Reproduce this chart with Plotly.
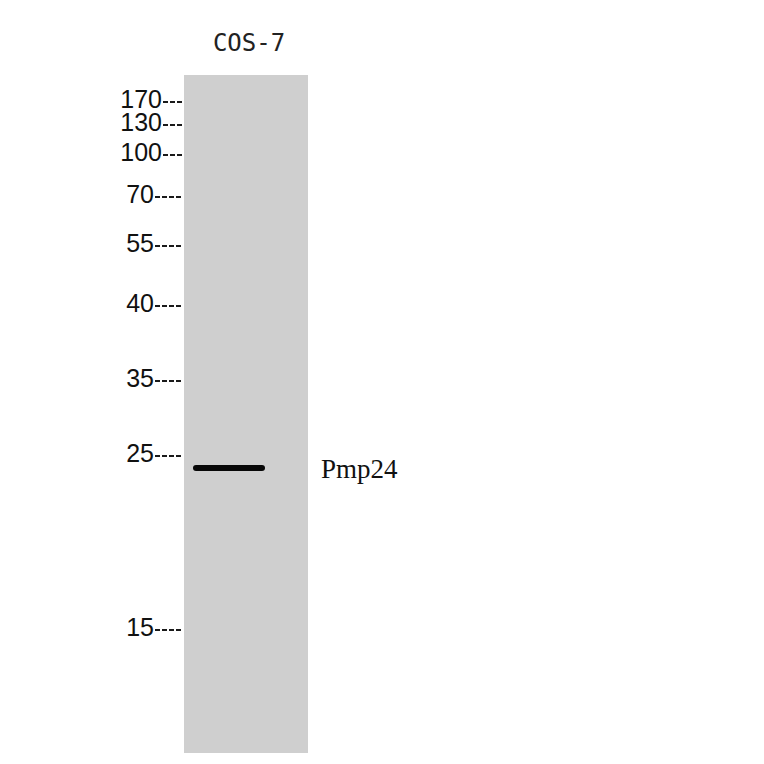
import plotly.graph_objects as go

# ---- data read from the blot ----
sample_labels = ["COS-7"]
marker_kda = ["170", "130", "100", "70", "55", "40", "35", "25", "15"]
marker_migration = [102, 125, 155, 197, 246, 306, 381, 456, 630]   # migration distance (px from top)
band_names = ["Pmp24"]
band_migration = [468]

# ---- layout constants (style / geometry) ----
W = H = 764
OFF = 8  # page body margin compensation
lane_x0, lane_x1 = 184, 308
lane_y0, lane_y1 = 75, 753
lane_center = (lane_x0 + lane_x1) / 2
dash_end = 182
band_x0, band_x1 = 196, 262

fig = go.Figure()

# lane
fig.add_shape(type="rect", x0=lane_x0, x1=lane_x1, y0=lane_y0, y1=lane_y1,
              fillcolor="#cfcfcf", line=dict(width=0), layer="below")

# label right edge depends on label width (3-digit labels sit closer to the lane)
label_ends = [162 if len(t) >= 3 else 154 for t in marker_kda]

# ladder dashes
for y, xe in zip(marker_migration, label_ends):
    fig.add_trace(go.Scatter(x=[xe + 1, dash_end], y=[y, y], mode="lines",
                             line=dict(color="#1a1a1a", width=1.8, dash="5px,2px"),
                             hoverinfo="skip", showlegend=False))

# ladder labels
fig.add_trace(go.Scatter(x=label_ends, y=marker_migration,
                         mode="text", text=marker_kda, textposition="middle left",
                         textfont=dict(family="Liberation Sans", size=25, color="#111111"),
                         hoverinfo="skip", showlegend=False))

# band(s)
for name, y in zip(band_names, band_migration):
    fig.add_trace(go.Scatter(x=[band_x0, band_x1], y=[y, y], mode="lines+markers",
                             line=dict(color="#080808", width=6),
                             marker=dict(color="#080808", size=6, line=dict(width=0)),
                             hoverinfo="skip", showlegend=False))
    fig.add_trace(go.Scatter(x=[lane_x1 + 13], y=[y + 3], mode="text", text=[name],
                             textposition="middle right",
                             textfont=dict(family="Liberation Serif", size=27, color="#111111"),
                             hoverinfo="skip", showlegend=False))

# sample label
fig.add_trace(go.Scatter(x=[lane_center + 3], y=[45], mode="text", text=sample_labels,
                         textposition="middle center",
                         textfont=dict(family="DejaVu Sans Mono", size=24, color="#222222"),
                         hoverinfo="skip", showlegend=False))

fig.update_layout(
    width=W, height=H, margin=dict(l=0, r=0, t=0, b=0),
    paper_bgcolor="white", plot_bgcolor="white",
    xaxis=dict(range=[OFF, W + OFF], visible=False, fixedrange=True),
    yaxis=dict(range=[H + OFF, OFF], visible=False, fixedrange=True),
)

fig.write_html("out.html")
